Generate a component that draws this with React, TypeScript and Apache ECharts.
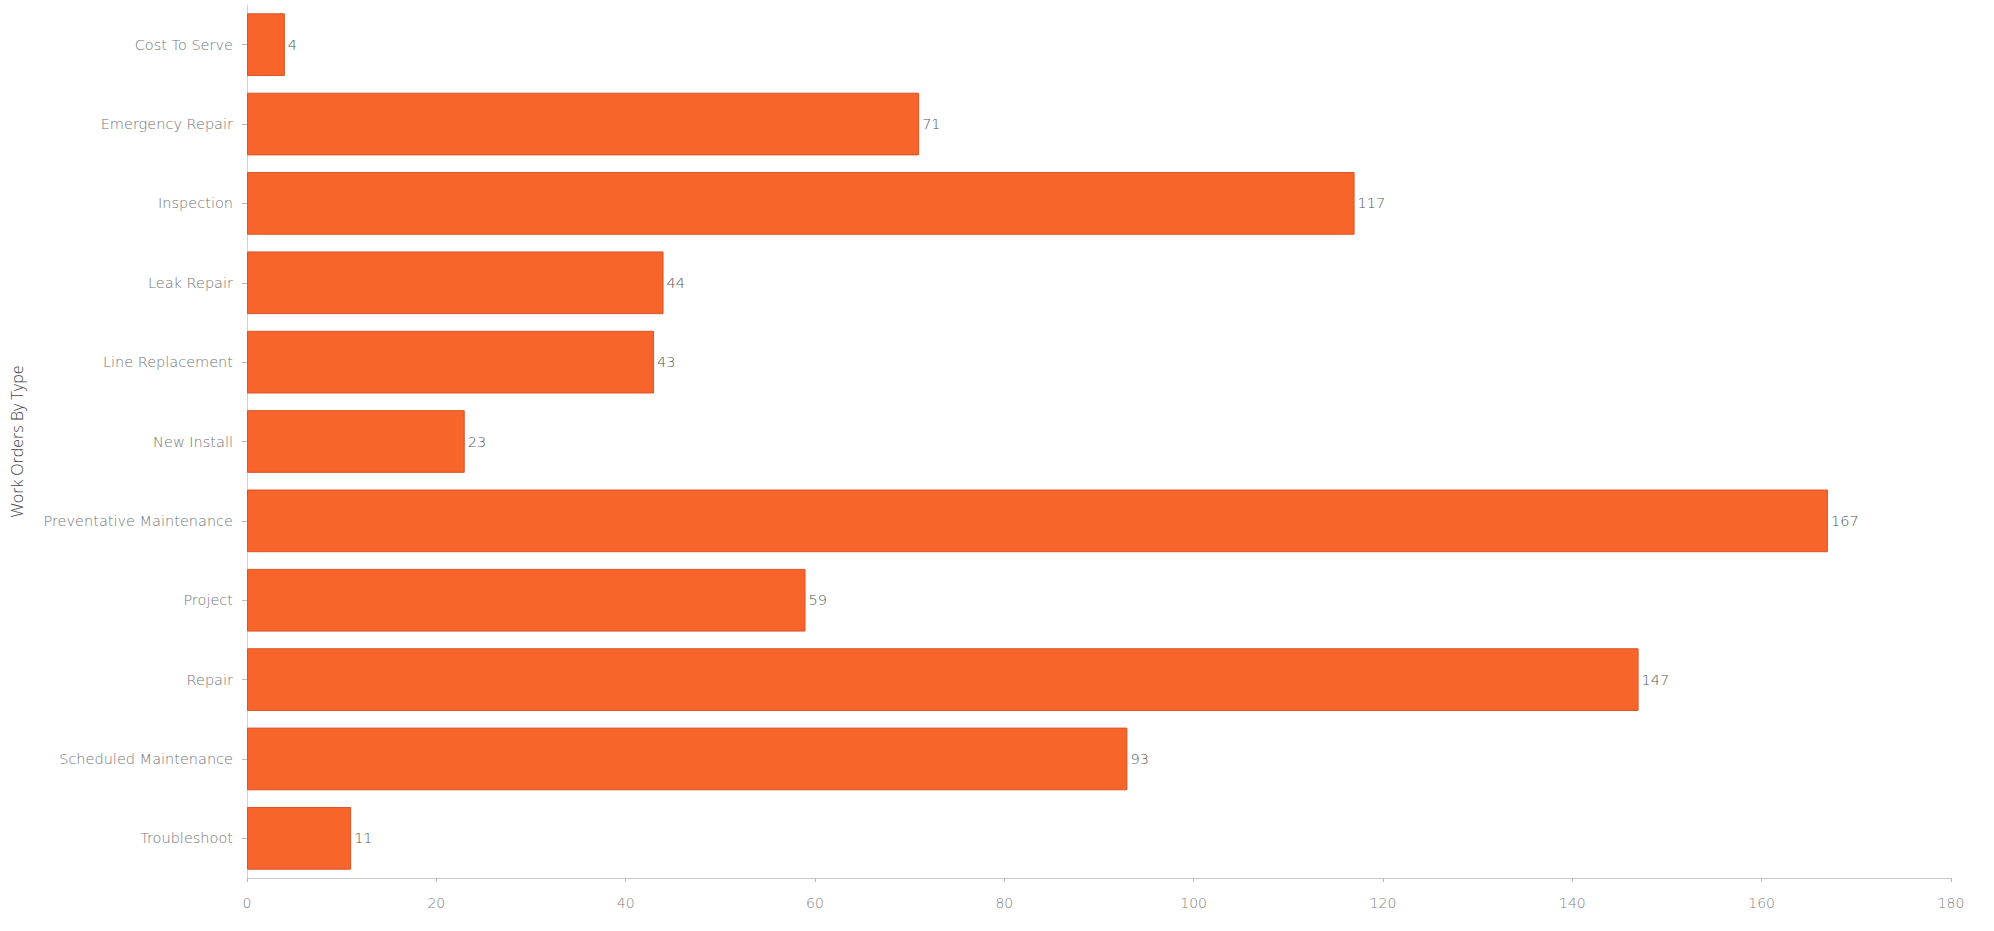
import React, { useEffect, useRef } from "react";
import * as echarts from "echarts";

const categories = [
  "Cost To Serve",
  "Emergency Repair",
  "Inspection",
  "Leak Repair",
  "Line Replacement",
  "New Install",
  "Preventative Maintenance",
  "Project",
  "Repair",
  "Scheduled Maintenance",
  "Troubleshoot",
];
const values = [4, 71, 117, 44, 43, 23, 167, 59, 147, 93, 11];
const axisTitle = "Work Orders By Type";
const xMin = 0;
const xMax = 180;
const xInterval = 20;

export default function App() {
  const ref = useRef<HTMLDivElement>(null);
  useEffect(() => {
    if (!ref.current) return;
    const chart = echarts.init(ref.current, undefined, { renderer: "svg" });
    const font = "'DejaVu Sans', 'Open Sans', sans-serif";
    chart.setOption({
      animation: false,
      backgroundColor: "#ffffff",
      grid: { left: 247, right: 43, top: 5, bottom: 53, containLabel: false },
      xAxis: {
        type: "value",
        min: xMin,
        max: xMax,
        interval: xInterval,
        splitLine: { show: false },
        axisLine: { show: true, lineStyle: { color: "#c8c8c8", width: 1 } },
        axisTick: { show: true, length: 4, lineStyle: { color: "#bbbbbb" } },
        axisLabel: { color: "#7f7f7f", fontSize: 14, fontFamily: font, fontWeight: 200, margin: 18 },
      },
      yAxis: {
        type: "category",
        data: categories,
        inverse: true,
        name: axisTitle,
        nameLocation: "middle",
        nameGap: 222,
        nameTextStyle: { color: "#444444", fontSize: 16, fontFamily: "'Open Sans', sans-serif", fontWeight: 300 },
        axisLine: { show: true, lineStyle: { color: "#d0d0d0", width: 1 } },
        axisTick: { show: true, alignWithLabel: true, length: 5, lineStyle: { color: "#bbbbbb" } },
        axisLabel: { color: "#747474", fontSize: 14.5, fontFamily: font, fontWeight: 200, margin: 14 },
      },
      series: [
        {
          type: "bar",
          data: values,
          barCategoryGap: "21%",
          itemStyle: { color: "#F8652A", borderColor: "#D9542A", borderWidth: 1 },
          label: {
            show: true,
            position: "right",
            distance: 3,
            color: "#555555",
            fontSize: 14.5,
            fontFamily: font,
            fontWeight: 200,
          },
        },
      ],
    });
    return () => chart.dispose();
  }, []);
  return (
    <div
      ref={ref}
      style={{ position: "fixed", left: 0, top: 0, width: 1994, height: 931, background: "#fff" }}
    />
  );
}
